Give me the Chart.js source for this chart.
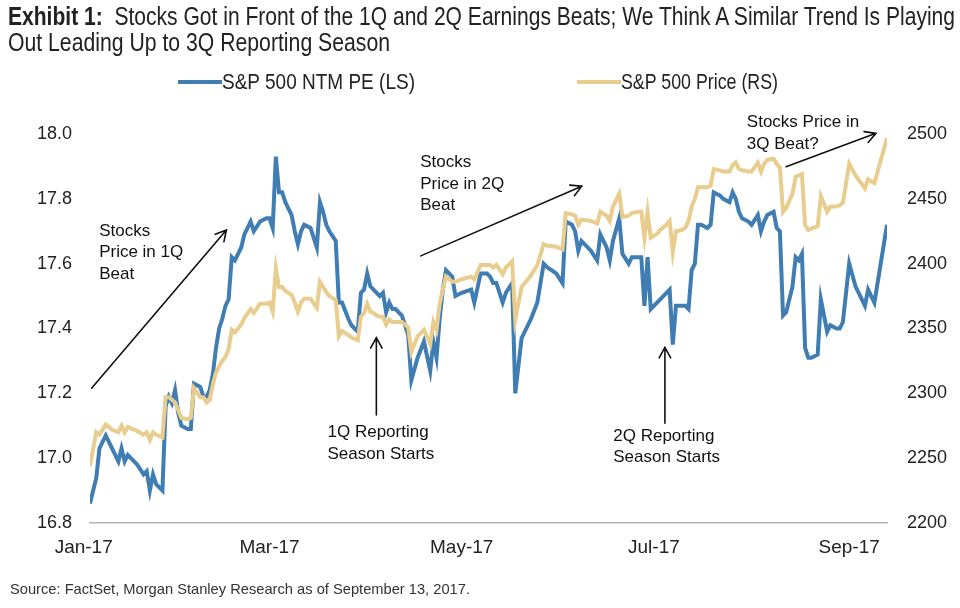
<!DOCTYPE html>
<html><head><meta charset="utf-8">
<script src="https://cdn.jsdelivr.net/npm/chart.js@4.4.1/dist/chart.umd.min.js"></script>
<style>
html,body{margin:0;padding:0;background:#fff;width:960px;height:608px;overflow:hidden;}
#wrap{position:relative;width:960px;height:608px;}
#c{position:absolute;left:0;top:0;}
.cond{position:absolute;font-family:'Liberation Sans',Arial,Helvetica,sans-serif;white-space:nowrap;transform-origin:left center;display:inline-block;}
.t{font-size:25px;line-height:26px;color:#222;left:8px;}
.lgtext{font-size:22px;line-height:26px;color:#222;top:69px;}
.lgline{position:absolute;top:80px;height:4px;}
#source{left:10px;top:580px;font-size:15px;line-height:18px;color:#333;}
</style></head>
<body><div id="wrap">
<canvas id="c" width="960" height="608"></canvas>
<div id="t1" class="cond t" style="top:3px"><b>Exhibit 1:</b>&nbsp; Stocks Got in Front of the 1Q and 2Q Earnings Beats; We Think A Similar Trend Is Playing</div>
<div id="t2" class="cond t" style="top:29px">Out Leading Up to 3Q Reporting Season</div>
<div id="source" class="cond">Source: FactSet, Morgan Stanley Research as of September 13, 2017.</div>
</div>
<script>
// trading days, as days since 1 Jan 2017
const tradingDay = [2,4,5,6,7,9,11,12,13,14,17,19,20,21,22,23,25,26,27,28,29,30,31,33,34,35,37,38,39,40,41,42,43,44,45,46,47,48,50,51,53,54,56,58,59,60,61,62,63,64,66,67,68,69,70,72,74,75,76,77,78,80,81,82,84,85,87,88,89,90,91,92,93,94,95,96,97,98,99,100,101,103,104,106,108,110,111,112,113,114,115,117,118,120,123,124,126,128,129,130,131,133,134,136,137,139,142,144,146,147,150,152,153,155,156,157,158,161,163,164,166,167,168,170,171,173,174,176,177,178,179,180,182,183,185,186,187,188,190,191,192,193,194,195,196,198,199,200,202,203,205,206,207,208,209,211,212,214,215,216,217,219,220,221,222,223,225,226,227,228,229,230,231,233,234,236,237,239,240,241,243,245,248,249,251,255];

const ntmPE = [16.86,16.94,17.03,17.05,17.07,17.03,16.99,17.03,16.99,17.01,16.98,16.95,16.96,16.90,16.95,16.92,16.90,17.16,17.19,17.17,17.21,17.14,17.10,17.09,17.09,17.23,17.22,17.19,17.19,17.21,17.26,17.34,17.40,17.43,17.47,17.49,17.62,17.61,17.65,17.69,17.73,17.70,17.73,17.74,17.74,17.71,17.93,17.82,17.82,17.79,17.75,17.70,17.66,17.70,17.72,17.71,17.65,17.79,17.76,17.72,17.70,17.67,17.48,17.48,17.43,17.41,17.39,17.51,17.52,17.57,17.53,17.52,17.51,17.50,17.51,17.45,17.48,17.46,17.46,17.45,17.44,17.38,17.24,17.31,17.36,17.27,17.36,17.31,17.43,17.52,17.58,17.56,17.50,17.51,17.52,17.48,17.57,17.57,17.56,17.54,17.54,17.48,17.51,17.54,17.20,17.37,17.43,17.48,17.60,17.59,17.57,17.54,17.73,17.72,17.70,17.64,17.67,17.64,17.61,17.69,17.65,17.61,17.67,17.74,17.63,17.60,17.62,17.62,17.62,17.47,17.62,17.46,17.48,17.49,17.51,17.52,17.35,17.47,17.47,17.47,17.46,17.58,17.60,17.72,17.72,17.71,17.72,17.82,17.81,17.80,17.79,17.82,17.80,17.76,17.74,17.73,17.72,17.75,17.70,17.73,17.75,17.76,17.71,17.70,17.44,17.45,17.53,17.62,17.61,17.63,17.34,17.31,17.31,17.32,17.49,17.39,17.41,17.40,17.40,17.42,17.60,17.53,17.47,17.52,17.48,17.72];

const spxPrice = [2244,2270,2268,2272,2276,2272,2270,2275,2270,2274,2271,2268,2270,2264,2270,2268,2266,2297,2297,2295,2293,2287,2281,2280,2281,2304,2297,2297,2293,2295,2307,2316,2321,2325,2328,2334,2349,2347,2353,2358,2365,2362,2369,2369,2370,2363,2396,2382,2382,2379,2376,2370,2363,2370,2373,2373,2366,2386,2382,2378,2375,2372,2344,2348,2345,2343,2341,2359,2362,2369,2363,2362,2360,2359,2359,2353,2357,2355,2355,2355,2355,2351,2332,2344,2349,2338,2355,2349,2369,2380,2390,2386,2386,2388,2390,2388,2399,2399,2399,2397,2399,2392,2397,2402,2357,2382,2391,2399,2415,2414,2413,2411,2439,2438,2437,2430,2434,2433,2431,2440,2437,2433,2444,2454,2436,2437,2439,2440,2440,2420,2440,2420,2423,2426,2430,2433,2409,2425,2426,2428,2433,2444,2450,2459,2459,2459,2460,2473,2472,2471,2471,2476,2478,2473,2472,2471,2471,2478,2471,2477,2480,2481,2477,2474,2440,2443,2454,2467,2468,2469,2430,2426,2427,2429,2452,2440,2444,2444,2445,2447,2477,2468,2458,2465,2462,2497];

const seriesNames = ['S&P 500 NTM PE (LS)', 'S&P 500 Price (RS)'];
const monthTickDays = [0, 59, 120, 181, 243];
const monthTickLabels = ['Jan-17', 'Mar-17', 'May-17', 'Jul-17', 'Sep-17'];
const peTicks = [16.8, 17.0, 17.2, 17.4, 17.6, 17.8, 18.0];
const priceTicks = [2200, 2250, 2300, 2350, 2400, 2450, 2500];

// annotations, anchored in (day, PE) units
const notes = [
  {lines: ['Stocks', 'Price in 1Q', 'Beat'], day: 4.9, pe: 17.70},
  {lines: ['Stocks', 'Price in 2Q', 'Beat'], day: 106.8, pe: 17.912},
  {lines: ['Stocks Price in', '3Q Beat?'], day: 210.5, pe: 18.035},
  {lines: ['1Q Reporting', 'Season Starts'], day: 77.4, pe: 17.079},
  {lines: ['2Q Reporting', 'Season Starts'], day: 168.1, pe: 17.068}
];
const arrows = [
  {from: [2.5, 17.216], to: [45.3, 17.704]},
  {from: [107.0, 17.624], to: [158.1, 17.839]},
  {from: [222.95, 17.899], to: [251.5, 18.002]},
  {from: [92.9, 17.133], to: [92.9, 17.372]},
  {from: [184.5, 17.108], to: [184.5, 17.342]}
];

const BLUE = '#3f7db2';
const GOLD = '#e8cd8e';
const REG = "'Liberation Sans',Arial,Helvetica,sans-serif";

// condensed look: squeeze text horizontally to the reference widths
function fitWidth(el, target) {
  const w = el.getBoundingClientRect().width;
  el.style.transform = 'scaleX(' + (target / w) + ')';
}

// legend (HTML)
const wrap = document.getElementById('wrap');
[[178, 222, 193, BLUE, seriesNames[0]], [577, 621, 157, GOLD, seriesNames[1]]].forEach(([x, tx, tw, col, txt]) => {
  const ln = document.createElement('div');
  ln.className = 'lgline';
  ln.style.left = x + 'px';
  ln.style.width = (tx - x) + 'px';
  ln.style.background = col;
  wrap.appendChild(ln);
  const t = document.createElement('div');
  t.className = 'cond lgtext';
  t.style.left = tx + 'px';
  t.textContent = txt;
  wrap.appendChild(t);
  fitWidth(t, tw);
});
fitWidth(document.getElementById('t1'), 947);
fitWidth(document.getElementById('t2'), 382);
fitWidth(document.getElementById('source'), 460);

const annot = {
  id: 'annot',
  afterDatasetsDraw(chart) {
    const ctx = chart.ctx, xs = chart.scales.x, ys = chart.scales.yPE;
    ctx.save();
    ctx.fillStyle = '#111';
    ctx.font = '17px ' + REG;
    ctx.textAlign = 'left';
    ctx.textBaseline = 'middle';
    notes.forEach(n => {
      const x = xs.getPixelForValue(n.day), y = ys.getPixelForValue(n.pe);
      n.lines.forEach((t, k) => ctx.fillText(t, x, y + k * 21.5));
    });
    ctx.strokeStyle = '#111';
    ctx.lineWidth = 1.6;
    ctx.lineCap = 'round';
    arrows.forEach(a => {
      const x1 = xs.getPixelForValue(a.from[0]), y1 = ys.getPixelForValue(a.from[1]);
      const x2 = xs.getPixelForValue(a.to[0]), y2 = ys.getPixelForValue(a.to[1]);
      const ang = Math.atan2(y2 - y1, x2 - x1), L = 12, h = 0.5;
      ctx.beginPath();
      ctx.moveTo(x1, y1); ctx.lineTo(x2, y2);
      ctx.moveTo(x2 - L * Math.cos(ang - h), y2 - L * Math.sin(ang - h));
      ctx.lineTo(x2, y2);
      ctx.lineTo(x2 - L * Math.cos(ang + h), y2 - L * Math.sin(ang + h));
      ctx.stroke();
    });
    ctx.restore();
  }
};

new Chart(document.getElementById('c'), {
  type: 'line',
  data: {
    datasets: [
      {label: seriesNames[1], data: tradingDay.map((d, i) => ({x: d, y: spxPrice[i]})), yAxisID: 'yPX',
       borderColor: GOLD, borderWidth: 4, pointRadius: 0, tension: 0, fill: false, order: 1},
      {label: seriesNames[0], data: tradingDay.map((d, i) => ({x: d, y: ntmPE[i]})), yAxisID: 'yPE',
       borderColor: BLUE, borderWidth: 4, pointRadius: 0, tension: 0, fill: false, order: 2}
    ]
  },
  options: {
    responsive: false,
    devicePixelRatio: 1,
    animation: false,
    layout: {padding: {top: 134, left: 0, right: 0, bottom: 0}},
    plugins: {legend: {display: false}, title: {display: false}, tooltip: {enabled: false}},
    scales: {
      x: {
        type: 'linear', min: 2, max: 255,
        grid: {display: false, drawTicks: false},
        border: {display: true, color: '#b3b3b3', width: 1.5},
        afterBuildTicks: s => { s.ticks = monthTickDays.map(v => ({value: v})); },
        afterFit: s => { s.height = 85; },
        ticks: {autoSkip: false, maxRotation: 0, padding: 13, color: '#222',
          font: {family: REG, size: 19},
          callback: (v) => monthTickLabels[monthTickDays.indexOf(v)]}
      },
      yPE: {
        position: 'left', min: 16.8, max: 18.0,
        grid: {display: false, drawTicks: false},
        border: {display: false},
        afterBuildTicks: s => { s.ticks = peTicks.map(v => ({value: v})); },
        afterFit: s => { s.width = 90; },
        ticks: {padding: 18, color: '#222', font: {family: REG, size: 18},
          callback: v => v.toFixed(1)}
      },
      yPX: {
        position: 'right', min: 2200, max: 2500,
        grid: {display: false, drawTicks: false},
        border: {display: false},
        afterBuildTicks: s => { s.ticks = priceTicks.map(v => ({value: v})); },
        afterFit: s => { s.width = 73; },
        ticks: {padding: 20, color: '#222', font: {family: REG, size: 18},
          callback: v => String(v)}
      }
    }
  },
  plugins: [annot]
});
</script>
</body></html>
